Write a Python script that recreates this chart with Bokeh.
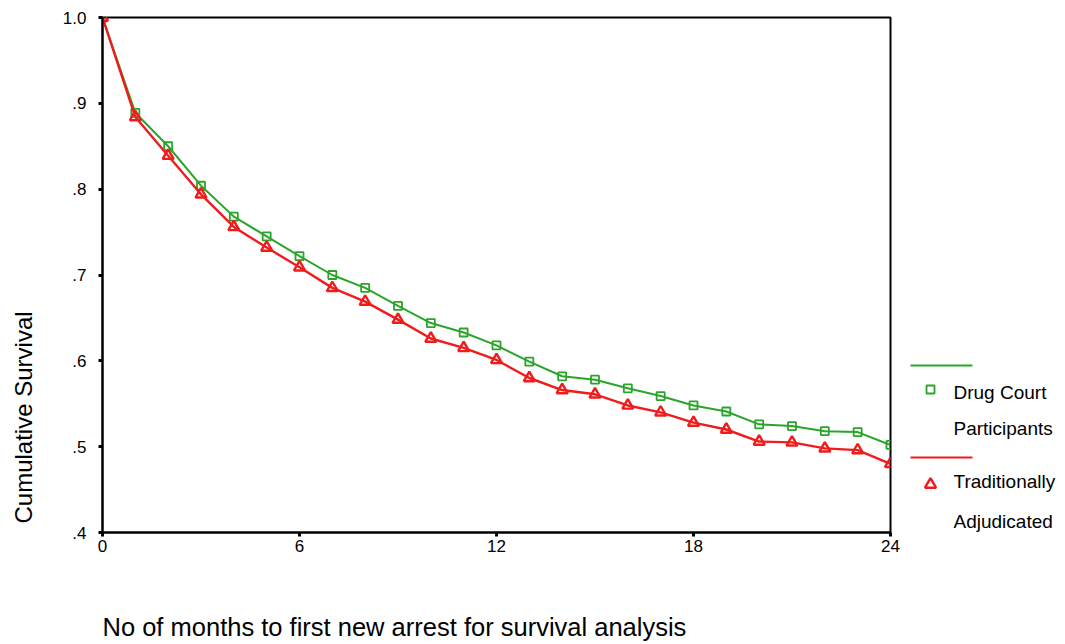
import math
from bokeh.plotting import figure
from bokeh.models import Range1d, FixedTicker, CustomJSTickFormatter, ColumnDataSource, Title
from bokeh.layouts import row
from bokeh.core.properties import value
from bokeh.embed import file_html
from bokeh.resources import INLINE

# ---- data ----
months = list(range(0, 25))
drug_court = [1.0, 0.889, 0.850, 0.804, 0.768, 0.745, 0.722, 0.700, 0.685, 0.664,
              0.644, 0.633, 0.618, 0.599, 0.582, 0.578, 0.568, 0.559, 0.548, 0.541,
              0.526, 0.524, 0.518, 0.517, 0.502]
traditional = [1.0, 0.884, 0.839, 0.794, 0.756, 0.732, 0.709, 0.685, 0.669, 0.648,
               0.626, 0.615, 0.601, 0.580, 0.566, 0.561, 0.548, 0.540, 0.528, 0.520,
               0.506, 0.505, 0.498, 0.496, 0.480]
x_ticks = [0, 6, 12, 18, 24]
y_ticks = [0.4, 0.5, 0.6, 0.7, 0.8, 0.9, 1.0]
legend_lines_green = ["Drug Court", "Participants"]
legend_lines_red = ["Traditionally", "Adjudicated"]
x_title = "No of months to first new arrest for survival analysis"
y_title = "Cumulative Survival"

GREEN = "#2aa52a"
RED = "#f01c1c"
FONT = "Liberation Sans"

H = 642
FRAME_TOP, FRAME_BOTTOM, FRAME_LEFT = 17, 532, 102
YT_W = 44                      # left panel holding the y title
MAIN_W = 901 - YT_W

# ---- left panel: y title ----
yf = figure(width=YT_W, height=H, x_range=Range1d(0, YT_W), y_range=Range1d(-FRAME_BOTTOM, -FRAME_TOP),
            output_backend="svg", toolbar_location=None,
            min_border_left=0, min_border_right=0, min_border_top=FRAME_TOP,
            min_border_bottom=H - FRAME_BOTTOM)
yf.axis.visible = False
yf.grid.visible = False
yf.outline_line_color = None
yf.text([23], [-523], text=[y_title], angle=math.pi / 2, text_align="left",
        text_baseline="middle", text_font=value(FONT), text_font_size="24px", text_color="black")

# ---- main plot ----
p = figure(width=MAIN_W, height=H, x_range=Range1d(0, 24), y_range=Range1d(0.4, 1.0),
           output_backend="svg", toolbar_location=None,
           min_border_left=FRAME_LEFT - YT_W, min_border_right=11, min_border_top=FRAME_TOP,
           min_border_bottom=H - FRAME_BOTTOM)
p.background_fill_color = "white"
p.border_fill_color = "white"
p.outline_line_color = "black"
p.outline_line_width = 2
p.xgrid.visible = False
p.ygrid.visible = False

for ax in (p.xaxis[0], p.yaxis[0]):
    ax.axis_line_width = 2
    ax.axis_line_color = "black"
    ax.major_tick_line_width = 3
    ax.major_tick_line_color = "black"
    ax.major_tick_in = 0
    ax.major_tick_out = 4
    ax.minor_tick_line_color = None
    ax.major_label_text_font = FONT
    ax.major_label_text_font_size = "17px"
    ax.major_label_text_color = "black"

p.xaxis[0].ticker = FixedTicker(ticks=x_ticks)
p.xaxis[0].major_label_standoff = 3
# blank axis label used only as vertical room above the x title
p.xaxis[0].axis_label = "\u00a0"
p.xaxis[0].axis_label_text_font_size = "20px"
p.xaxis[0].axis_label_standoff = 29
p.yaxis[0].ticker = FixedTicker(ticks=y_ticks)
p.yaxis[0].major_label_standoff = 12
p.yaxis[0].formatter = CustomJSTickFormatter(code="""
    const s = tick.toFixed(1);
    return tick >= 1 ? s : s.slice(1);
""")

src = ColumnDataSource(dict(m=months, g=drug_court, r=traditional))
p.line("m", "g", source=src, line_color=GREEN, line_width=2)
p.scatter("m", "g", source=src, marker="square", size=8, fill_color=None,
          line_color=GREEN, line_width=1.8)
p.line("m", "r", source=src, line_color=RED, line_width=2.4)
p.scatter("m", "r", source=src, marker="triangle", size=11, fill_color=None,
          line_color=RED, line_width=2.4)

xt = Title(text=x_title, align="left", offset=0, text_font=FONT, text_font_size="25.5px",
           text_font_style="normal", text_color="black", standoff=4)
p.add_layout(xt, "below")

# ---- legend panel (frame aligned with the main frame: page y 17..532) ----
LG_X0, LG_W = 901, 160
lg = figure(width=LG_W, height=H, x_range=Range1d(LG_X0, LG_X0 + LG_W),
            y_range=Range1d(-FRAME_BOTTOM, -FRAME_TOP),
            output_backend="svg", toolbar_location=None,
            min_border_left=0, min_border_right=0, min_border_top=FRAME_TOP,
            min_border_bottom=H - FRAME_BOTTOM)
lg.axis.visible = False
lg.grid.visible = False
lg.outline_line_color = None

lg.line([910, 972], [-365, -365], line_color=GREEN, line_width=2)
lg.scatter([930], [-389], marker="square", size=8, fill_color=None, line_color=GREEN, line_width=1.8)
lg.text([953, 953], [-392, -428], text=legend_lines_green, text_font=value(FONT),
        text_font_size="19px", text_baseline="middle", text_color="black")
lg.line([910, 972], [-457, -457], line_color=RED, line_width=2.2)
lg.scatter([930], [-484], marker="triangle", size=11, fill_color=None, line_color=RED, line_width=2.4)
lg.text([953, 953], [-481, -521], text=legend_lines_red, text_font=value(FONT),
        text_font_size="19px", text_baseline="middle", text_color="black")

layout = row(yf, p, lg, spacing=0)
open("out.html", "w").write(file_html(layout, INLINE))
